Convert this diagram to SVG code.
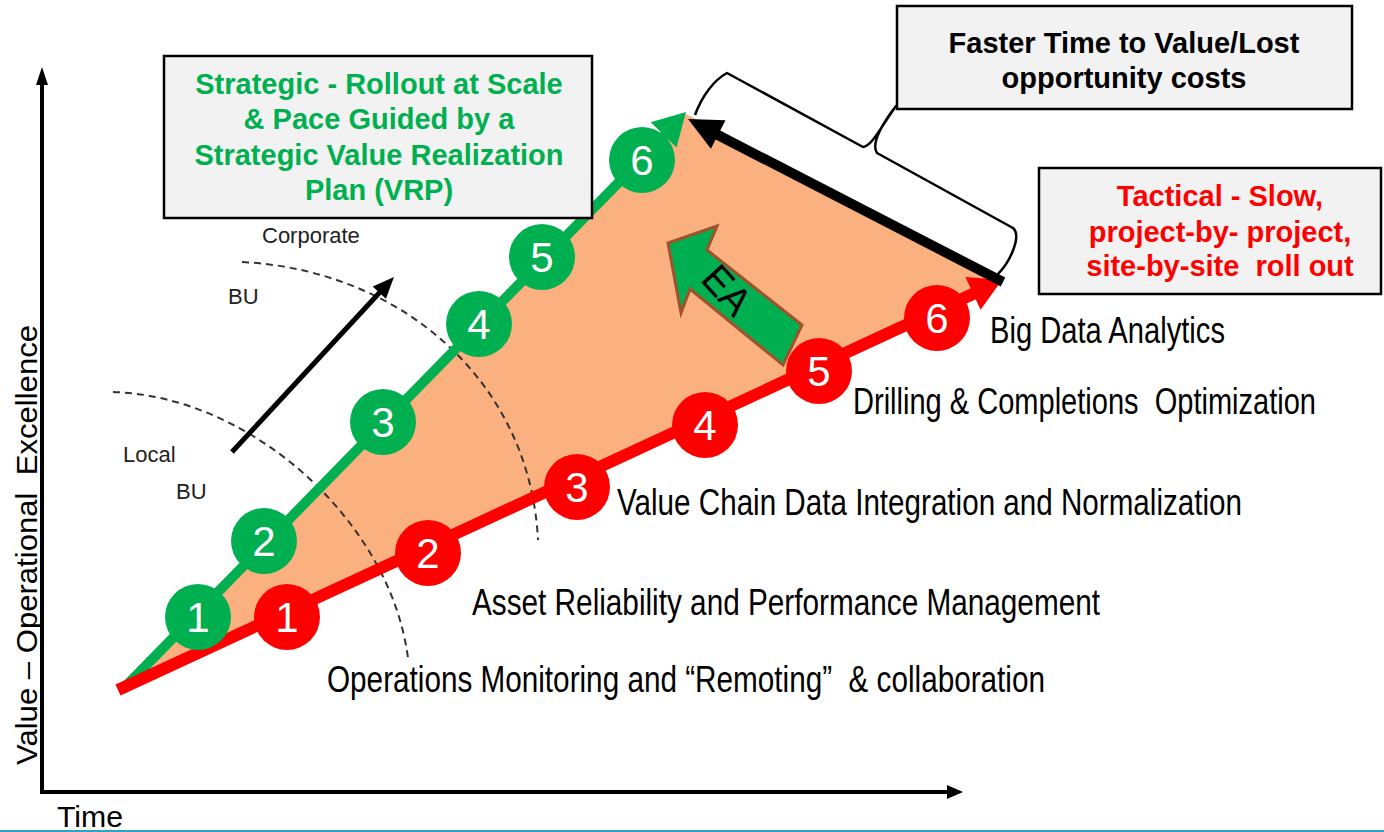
<svg xmlns="http://www.w3.org/2000/svg" width="1384" height="832" viewBox="0 0 1384 832">
<style>
text{white-space:pre}
.box{fill:#F2F2F2;stroke:#000;stroke-width:2.5}
.bt{font-family:"Liberation Sans",Arial,sans-serif;font-weight:bold;font-size:29px;text-anchor:middle}
.lbl{font-family:"Liberation Sans",Arial,sans-serif;font-size:36px;fill:#000}
.sm{font-family:"Liberation Sans",Arial,sans-serif;font-size:22px;fill:#222}
.ax{font-family:"Liberation Sans",Arial,sans-serif;font-size:30px;fill:#000}
.num{font-family:"Liberation Sans",Arial,sans-serif;font-size:42px;fill:#fff;text-anchor:middle}
.g{fill:#00AF50}
.r{fill:#FF0000}
.dash{fill:none;stroke:#333;stroke-width:2;stroke-dasharray:7 5}
</style>
<rect width="1384" height="832" fill="#fff"/>
<line x1="0" y1="831" x2="1384" y2="831" stroke="#2AA7C0" stroke-width="2"/>

<g id="axes">
<line x1="42" y1="80" x2="42" y2="794" stroke="#000" stroke-width="4"/>
<polygon points="42,67 48,85 36,85" fill="#000"/>
<line x1="40" y1="792" x2="950" y2="792" stroke="#000" stroke-width="4"/>
<polygon points="963,792 947,785 947,799" fill="#000"/>
<text class="ax" transform="translate(37,545) rotate(-90)" text-anchor="middle" textLength="440" lengthAdjust="spacingAndGlyphs">Value – Operational  Excellence</text>
<text class="ax" x="57" y="827" textLength="66" lengthAdjust="spacingAndGlyphs">Time</text>
</g>

<g id="wedge">
<polygon points="120,690 686,114 1002,280" fill="#FAB07F"/>
</g>

<g id="zones">
<path class="dash" d="M242,262 C400,270 530,380 538,540"/>
<path class="dash" d="M113,392 C250,396 390,520 408,658"/>
<text class="sm" x="262" y="243">Corporate</text>
<text class="sm" x="228" y="304">BU</text>
<text class="sm" x="123" y="462">Local</text>
<text class="sm" x="176" y="499">BU</text>
</g>

<g id="connectors">
<line x1="122" y1="690" x2="668" y2="132" stroke="#00AF50" stroke-width="10"/>
<polygon points="686,112 676.5,147.4 650.7,122.2" fill="#00AF50"/>
<line x1="118" y1="690" x2="975" y2="293" stroke="#FF0000" stroke-width="12"/>
<polygon points="1002,280 980.6,309.7 965.4,277.1" fill="#FF0000"/>
<line x1="1003" y1="282" x2="716" y2="134" stroke="#000" stroke-width="10"/>
<polygon points="688,119 725.5,120.3 710.9,148.7" fill="#000"/>
<line x1="232" y1="452" x2="381" y2="291" stroke="#000" stroke-width="5"/>
<polygon points="394,277 385.9,298.8 372.7,286.4" fill="#000"/>
<path d="M695,115 C702,96 714,80 727,73 L863,147 C872,146 881,127 896,106 C885,120 870,143 877,153 L1013,228 C1022,236 1010,262 998,274" fill="none" stroke="#000" stroke-width="2.5" stroke-linejoin="round"/>
</g>

<g id="ea">
<polygon points="668,243 717,226 707,250 802,325 783,365 690,289 681,313" fill="#00AF50" stroke="#A0522D" stroke-width="3" stroke-linejoin="miter"/>
<text transform="translate(727,290) rotate(48)" font-family="'Liberation Sans',Arial,sans-serif" font-size="40" text-anchor="middle" dominant-baseline="central" textLength="52" lengthAdjust="spacingAndGlyphs">EA</text>
</g>

<g id="green-steps">
<g id="g1"><circle class="g" cx="198" cy="617" r="33"/><text class="num" x="198" y="632">1</text></g>
<g id="g2"><circle class="g" cx="264" cy="541" r="33"/><text class="num" x="264" y="556">2</text></g>
<g id="g3"><circle class="g" cx="383" cy="422" r="33"/><text class="num" x="383" y="437">3</text></g>
<g id="g4"><circle class="g" cx="479" cy="324" r="33"/><text class="num" x="479" y="339">4</text></g>
<g id="g5"><circle class="g" cx="542" cy="257" r="33"/><text class="num" x="542" y="272">5</text></g>
<g id="g6"><circle class="g" cx="642" cy="160" r="33"/><text class="num" x="642" y="175">6</text></g>
</g>

<g id="red-steps">
<g id="r1"><circle class="r" cx="287" cy="617" r="33"/><text class="num" x="287" y="632">1</text></g>
<g id="r2"><circle class="r" cx="428" cy="553" r="33"/><text class="num" x="428" y="568">2</text></g>
<g id="r3"><circle class="r" cx="577" cy="487" r="33"/><text class="num" x="577" y="502">3</text></g>
<g id="r4"><circle class="r" cx="705" cy="425" r="33"/><text class="num" x="705" y="440">4</text></g>
<g id="r5"><circle class="r" cx="819" cy="371" r="33"/><text class="num" x="819" y="386">5</text></g>
<g id="r6"><circle class="r" cx="937" cy="318" r="33"/><text class="num" x="937" y="333">6</text></g>
</g>

<g id="labels">
<text class="lbl" x="990" y="343" textLength="235" lengthAdjust="spacingAndGlyphs">Big Data Analytics</text>
<text class="lbl" x="853" y="414" textLength="463" lengthAdjust="spacingAndGlyphs">Drilling &amp; Completions  Optimization</text>
<text class="lbl" x="617" y="515" textLength="625" lengthAdjust="spacingAndGlyphs">Value Chain Data Integration and Normalization</text>
<text class="lbl" x="472" y="615" textLength="628" lengthAdjust="spacingAndGlyphs">Asset Reliability and Performance Management</text>
<text class="lbl" x="327" y="692" textLength="718" lengthAdjust="spacingAndGlyphs">Operations Monitoring and “Remoting”  &amp; collaboration</text>
</g>

<g id="box-strategic">
<rect class="box" x="164" y="56" width="428" height="162"/>
<text class="bt" fill="#00B050"><tspan x="379" y="94">Strategic - Rollout at Scale</tspan><tspan x="379" y="129">&amp; Pace Guided by a</tspan><tspan x="379" y="165">Strategic Value Realization</tspan><tspan x="379" y="200">Plan (VRP)</tspan></text>
</g>

<g id="box-faster">
<rect class="box" x="897" y="6" width="455" height="103"/>
<text class="bt" fill="#000"><tspan x="1124" y="53">Faster Time to Value/Lost</tspan><tspan x="1124" y="88">opportunity costs</tspan></text>
</g>

<g id="box-tactical">
<rect class="box" x="1039" y="168" width="342" height="126"/>
<text class="bt" fill="#FF0000" font-size="28"><tspan x="1220" y="206">Tactical - Slow,</tspan><tspan x="1220" y="242">project-by- project,</tspan><tspan x="1220" y="276">site-by-site  roll out</tspan></text>
</g>
</svg>
